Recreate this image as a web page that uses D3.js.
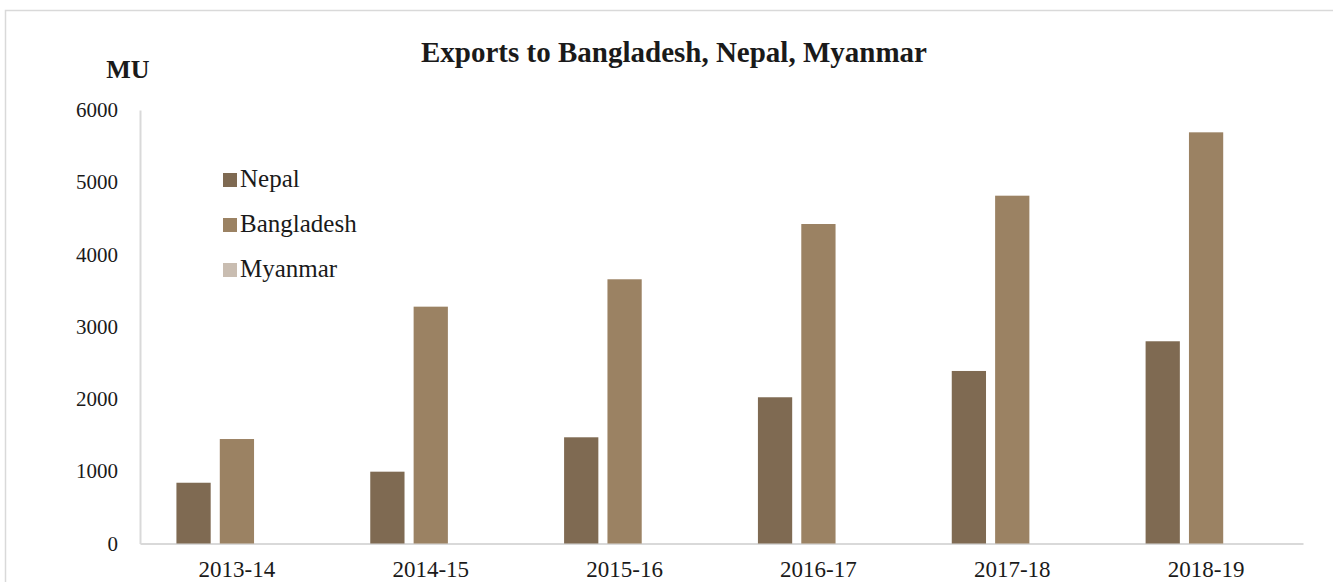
<!DOCTYPE html>
<html>
<head>
<meta charset="utf-8">
<script src="https://cdn.jsdelivr.net/npm/d3@7"></script>
<style>
  body { margin: 0; background: #fff; }
  svg text { font-family: "Liberation Serif", "DejaVu Serif", serif; fill: #1a1a1a; }
  .axis .domain { stroke: #d9d9d9; stroke-width: 2; }
  .axis text { font-family: "Liberation Serif", serif; }
</style>
</head>
<body>
<div id="chart"></div>
<script>
const svgWidth = 1333,
      svgHeight = 582,
      margin = {top: 110, right: 30, bottom: 38.5, left: 140},
      width = svgWidth - margin.left - margin.right,
      height = svgHeight - margin.top - margin.bottom;

// data (MU)
const years = ["2013-14", "2014-15", "2015-16", "2016-17", "2017-18", "2018-19"];
const series = ["Nepal", "Bangladesh", "Myanmar"];
const nepal = [841, 994, 1470, 2024, 2388, 2799];
const bangladesh = [1446, 3278, 3657, 4422, 4814, 5691];
const myanmar = [0, 0, 0, 0, 0, 0];
const yTicks = [0, 1000, 2000, 3000, 4000, 5000, 6000];
const colors = ["#7f6a52", "#9b8263", "#c9bdb1"];

const values = {Nepal: nepal, Bangladesh: bangladesh, Myanmar: myanmar};

let scaleY = d3.scaleLinear().domain([0, 6000]).range([height, 0]),
    scaleX = d3.scaleBand().domain(years).range([0, width]),
    scaleS = d3.scaleBand().domain(series).range([0, scaleX.bandwidth()])
      .paddingInner(0.21).paddingOuter(0.84),
    color = d3.scaleOrdinal().domain(series).range(colors);

let svg = d3.select("#chart")
  .append("svg")
  .attr("width", svgWidth)
  .attr("height", svgHeight)
  .attr("font-family", "Liberation Serif, serif");

// outer frame
svg.append("rect")
  .attr("x", 5.5).attr("y", 10.5)
  .attr("width", 1340).attr("height", 600)
  .attr("fill", "none")
  .attr("stroke", "#d9d9d9")
  .attr("stroke-width", 1.5);

svg.append("text")
  .attr("x", 674)
  .attr("y", 62)
  .style("text-anchor", "middle")
  .style("font-weight", "bold")
  .style("font-size", "29px")
  .text("Exports to Bangladesh, Nepal, Myanmar");

svg.append("text")
  .attr("x", 128)
  .attr("y", 78)
  .style("text-anchor", "middle")
  .style("font-weight", "bold")
  .style("font-size", "26px")
  .text("MU");

let g = svg.append("g")
  .attr("transform", "translate(" + margin.left + "," + margin.top + ")");

let yAxis = g.append("g")
  .attr("class", "axis")
  .call(d3.axisLeft(scaleY).tickValues(yTicks).tickFormat(d3.format("d"))
    .tickSize(0).tickSizeOuter(0).tickPadding(22));
yAxis.selectAll("text").style("font-size", "21px");

let xAxis = g.append("g")
  .attr("class", "axis")
  .attr("transform", "translate(0," + height + ")")
  .call(d3.axisBottom(scaleX).tickSize(0).tickSizeOuter(0).tickPadding(17));
xAxis.selectAll("text").style("font-size", "23px");

let groups = g.append("g")
  .selectAll("g")
  .data(years)
  .join("g")
  .attr("transform", d => "translate(" + scaleX(d) + ",0)");

groups.selectAll("rect")
  .data((d, i) => series.map(s => ({key: s, value: values[s][i]})))
  .join("rect")
  .attr("x", d => scaleS(d.key))
  .attr("y", d => scaleY(d.value))
  .attr("width", scaleS.bandwidth())
  .attr("height", d => height - scaleY(d.value))
  .attr("fill", d => color(d.key));

// legend
let legend = svg.append("g")
  .attr("transform", "translate(223,173)");

let items = legend.selectAll("g")
  .data(series)
  .join("g")
  .attr("transform", (d, i) => "translate(0," + i * 45 + ")");

items.append("rect")
  .attr("width", 14)
  .attr("height", 14)
  .attr("fill", d => color(d));

items.append("text")
  .attr("x", 17)
  .attr("y", 14)
  .style("font-size", "25px")
  .text(d => d);
</script>
</body>
</html>
